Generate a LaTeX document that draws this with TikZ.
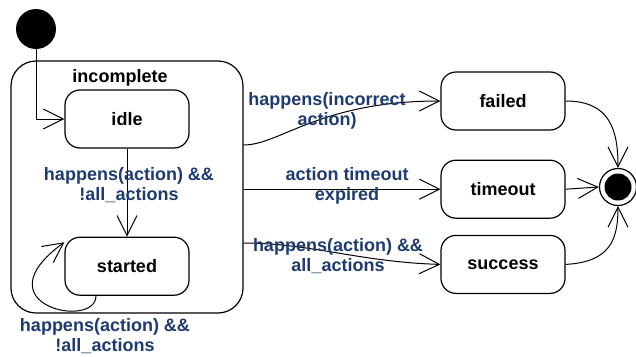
\documentclass[tikz,border=0pt]{standalone}
\usepackage{fontspec}
\setmainfont{Liberation Sans}
\usetikzlibrary{arrows.meta,positioning}
\definecolor{lblblue}{RGB}{30,58,110}

\begin{document}
\begin{tikzpicture}[x=1pt, y=-1pt,
    every node/.style={font=\fontsize{18}{20.5}\selectfont\bfseries},
    state/.style={draw, rectangle, rounded corners=15pt, line width=1.2pt, minimum width=124pt, minimum height=58pt},
    composite/.style={draw, rectangle, rounded corners=25pt, line width=1.2pt, minimum width=232pt, minimum height=252pt},
    initial/.style={circle, fill=black, minimum size=40pt, inner sep=0pt},
    final/.style={circle, draw, line width=1.2pt, minimum size=37pt, inner sep=0pt,
        path picture={\fill[black] (path picture bounding box.center) circle (13.5pt);}},
    lbl/.style={text=lblblue, align=center},
    trans/.style={line width=1pt, -{Straight Barb[length=20pt, width=20pt, line width=1pt]}}
]
    \useasboundingbox (0,0) rectangle (636,356);

    % Composite state
    \node[composite] (incomplete) at (127,187) {};
    \node (incompletelabel) at (120,78) {incomplete};

    % Inner states
    \node[state] (idle) at (127,119) {idle};
    \node[state, below=88pt of idle] (started) {started};

    % Pseudo states
    \node[initial] (start) at (36,29) {};
    \node[final] (end) at (618,187) {};

    % Outcome states
    \node[state] (failed) at (503,101) {failed};
    \node[state, below=29pt of failed] (timeout) {timeout};
    \node[state, below=16pt of timeout] (success) {success};

    % Transitions
    \draw[trans] (start.south) |- (idle.west);
    \draw[trans] (idle) -- (started);
    \node[lbl] (idlelabel) at (129,185) {happens(action) \&\&\\!all\_actions};
    \draw[trans] ([xshift=-31pt]started.south) .. controls (96,330) and (-22,305) .. ([yshift=24pt]started.west);
    \node[lbl] (looplabel) at (105,336) {happens(action) \&\&\\!all\_actions};

    \draw[trans] ([yshift=42pt]incomplete.east) .. controls (280,145) and (320,101) .. (failed.west);
    \node[lbl] (failedlabel) at (327,111) {happens(incorrect\\action)};
    \draw[trans] (incomplete.east |- timeout.west) -- (timeout.west);
    \node[lbl] (timeoutlabel) at (347,186) {action timeout\\expired};
    \draw[trans] ([yshift=-56pt]incomplete.east) .. controls (310,243) and (360,262) .. (success.west);
    \node[lbl] (successlabel) at (338,256) {happens(action) \&\&\\all\_actions};

    \draw[trans] (failed.east) .. controls (610,101) and (618,130) .. (end.north);
    \draw[trans] (timeout.east) -- (end.west);
    \draw[trans] (success.east) .. controls (610,262) and (618,240) .. (end.south);

\end{tikzpicture}
\end{document}
